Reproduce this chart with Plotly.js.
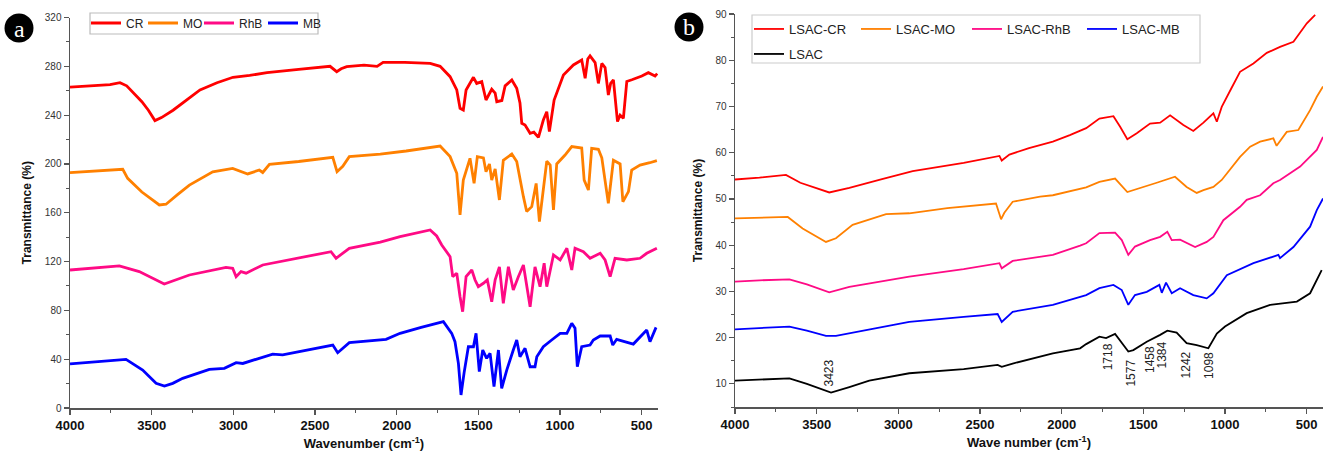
<!DOCTYPE html>
<html><head><meta charset="utf-8">
<script src="https://cdn.plot.ly/plotly-3.0.1.min.js"></script>
<style>html,body{margin:0;padding:0;background:#fff}#chart{width:1324px;height:457px}</style>
</head><body><div id="chart"></div>
<script>
// ---------- Panel a data (wavenumber, transmittance %) ----------
const crWave=[4000,3900,3755,3694,3653,3560,3520,3480,3440,3369,3300,3204,3100,3002,2900,2794,2600,2408,2367,2340,2306,2200,2120,2083,1950,1795,1734,1673,1632,1612,1592,1575,1530,1510,1479,1453,1418,1397,1387,1356,1336,1295,1265,1245,1234,1214,1183,1160,1132,1102,1081,1065,1036,1000,979,918,867,846,830,816,785,765,744,724,704,690,673,648,632,612,591,560,530,499,459,418,405];
const crT=[263,264,265,266.6,264,251,244,235.5,238,244,251,260.6,266.5,271,272.5,274.8,277.5,280,275.6,278,279.7,281,280,283.3,283.3,282.4,280,271.5,260.6,245.6,244.2,260.6,271,266,267.5,252.4,261.2,258,251,252,264,268.8,262,250,233.3,231.9,225.1,226,221.8,236,242.8,226.6,252.4,265,272.9,281.1,285.2,270.2,286,288.5,283,266,282.4,279,256.5,266,268.8,234.7,240,237.4,267.6,269,270.2,272,274.8,272,274];

const moWave=[4000,3850,3677,3647,3560,3453,3412,3340,3269,3126,3004,2912,2860,2841,2820,2779,2600,2391,2365,2330,2290,2100,1942,1850,1734,1673,1632,1612,1592,1551,1526,1506,1469,1453,1432,1418,1397,1371,1347,1295,1265,1224,1204,1173,1146,1126,1105,1081,1060,1040,1020,969,928,867,852,826,806,765,744,704,673,632,615,581,561,510,450,407];
const moT=[192.8,194,195.6,188.2,177,166.4,167,175,182.7,193.6,196.4,191.8,194,195,193,199.7,202,205.4,193.6,198,206,208,210.6,212.5,214.7,206,192.3,158.2,186.8,204.6,184.1,206,205,193.6,200,186.8,196,170.5,203,208.1,202,173.2,161,165,184,152.8,176,202.2,199,162.3,200,207.3,214.2,213,186.8,178.6,212.8,212,205,167.7,203,200,169,177.3,195,199.1,201,202.7];

const rhbWave=[4000,3850,3698,3576,3423,3269,3126,3045,3004,2983,2953,2922,2820,2657,2402,2371,2290,2100,1979,1795,1755,1724,1693,1673,1657,1632,1612,1596,1575,1540,1520,1500,1469,1445,1418,1397,1371,1347,1316,1286,1255,1224,1183,1153,1122,1097,1081,1040,999,958,928,908,857,816,754,724,693,663,591,510,469,407];
const rhbT=[113.1,114.5,116.4,111.8,101.6,109,113,115.3,114.5,107.6,111.8,110.5,117.2,121.3,128.1,122.7,130.9,136,140.4,145.9,141,133.6,128.1,124,107.6,110.4,91.2,78.9,107.6,113.1,104.9,99.4,102.2,105,87.1,105,115.7,85.7,115.7,96.7,107.6,117.2,83,115.7,99.4,118.6,99.4,125.4,121.3,130.9,113.1,130.9,128.1,122.7,126.8,121.3,107.6,122.7,121.3,122.7,126.8,130.9];

const mbWave=[4000,3850,3657,3555,3473,3422,3371,3310,3147,3055,2983,2942,2759,2698,2391,2361,2290,2065,1979,1850,1714,1663,1643,1622,1606,1587,1561,1530,1514,1494,1473,1449,1428,1404,1377,1357,1326,1286,1265,1245,1214,1183,1153,1142,1102,1051,999,958,928,908,894,867,816,796,754,693,677,653,551,469,449,412];
const mbT=[36.1,38,39.9,31.1,20.2,18,20.2,24.3,31.7,32.5,37.1,36.5,44.2,43.5,51.6,45.3,53.5,56.3,61.2,66,70.8,61.2,54.3,36.6,10.7,29,50.2,50.2,61.2,29.8,47.5,40.7,44.8,17.5,47.5,16.1,31.1,47.5,55.7,42,48.9,33.8,33.8,42,50.2,55.7,61.2,61.2,69.4,65.3,33.8,50.2,51.6,55.7,59,59,51.6,56.3,52.4,63.9,54.3,66.1];

// ---------- Panel b data ----------
const lcrWave=[4000,3850,3688,3600,3423,3300,3100,2912,2600,2381,2367,2320,2200,2054,1950,1850,1769,1683,1642,1598,1540,1459,1397,1336,1255,1194,1132,1071,1050,1020,960,908,826,744,663,581,499,448];
const lcrT=[54.2,54.6,55.2,53.5,51.4,52.4,54.3,56,57.8,59.3,58.3,59.6,61,62.4,63.8,65.3,67.4,67.9,65.6,62.9,64.2,66.3,66.5,68.1,66,64.7,66.5,68.5,66.7,69.9,74,77.5,79.3,81.6,82.9,84,88,89.8];

const lmoWave=[4000,3850,3677,3586,3443,3382,3280,3075,2933,2700,2402,2371,2351,2300,2132,2054,1850,1769,1673,1598,1520,1418,1306,1235,1173,1132,1071,1020,908,846,785,704,684,622,551,479,438,400];
const lmoT=[45.8,46,46.1,43.6,40.7,41.5,44.4,46.7,46.9,48,49,45.6,47,49.4,50.5,50.8,52.5,53.7,54.4,51.5,52.3,53.5,54.8,52.6,51.3,51.9,52.6,54.1,59.1,61.3,62.4,63.1,61.5,64.5,64.9,69.2,72.1,74.3];

const lrhbWave=[4000,3850,3667,3560,3423,3300,2933,2600,2381,2367,2300,2054,1887,1850,1769,1745,1673,1632,1592,1551,1459,1397,1353,1326,1275,1183,1112,1071,1010,908,867,785,704,663,540,438,400];
const lrhbT=[32.1,32.4,32.6,31.5,29.8,31,33.2,34.8,36.1,35,36.6,37.9,39.9,40.4,42.6,42.6,42.7,41.1,37.9,39.7,41.1,41.8,42.9,41.1,41.2,39.6,40.7,41.8,45.4,48.3,49.8,50.8,53.4,54.1,57,60.6,63.4];

const lmbWave=[4000,3850,3667,3560,3443,3382,2933,2600,2392,2367,2300,2054,1887,1850,1769,1683,1632,1592,1551,1479,1402,1387,1361,1326,1275,1194,1112,1071,989,887,826,673,663,581,479,438,400];
const lmbT=[21.8,22.1,22.4,21.5,20.4,20.4,23.4,24.5,25.1,23.4,25.6,27.1,28.8,29.2,30.7,31.4,30.3,27.1,29.2,29.9,31.4,29.7,31.9,29.6,30.7,29.2,28.5,29.6,33.5,35.2,36.1,37.9,37.2,39.6,44,47.6,50.1];

const lsWave=[4000,3850,3667,3560,3412,3300,3178,2933,2600,2392,2367,2300,2054,1887,1850,1769,1728,1673,1592,1561,1479,1397,1353,1296,1235,1173,1102,1050,1000,867,724,560,479,408];
const lsT=[10.7,10.9,11.2,10,8.1,9.3,10.7,12.3,13.2,14.1,13.7,14.4,16.6,17.7,18.6,20.2,19.9,20.8,17,17.3,19.1,20.6,21.5,21.1,18.8,18.4,17.7,20.9,22.4,25.3,27.1,27.8,29.6,34.6];

// ---------- labels ----------
const namesA=['CR','MO','RhB','MB'];
const namesB=['LSAC-CR','LSAC-MO','LSAC-RhB','LSAC-MB','LSAC'];
const peakLabels=['3423','1718','1577','1458','1384','1242','1098'];
const colors=['#ff0000','#ff8000','#ff0a85','#0000ff','#000000'];

// ---------- layout helpers ----------
const W=1324,H=457;
const px=v=>v/W, py=v=>1-v/H;
const F='Liberation Sans, Arial, sans-serif';

const seriesA=[[crWave,crT],[moWave,moT],[rhbWave,rhbT],[mbWave,mbT]];
const seriesB=[[lcrWave,lcrT],[lmoWave,lmoT],[lrhbWave,lrhbT],[lmbWave,lmbT],[lsWave,lsT]];
const legW_A=[12,11,19,20];
const legW_B=[62,66,70,70,70];

const traces=[];
seriesA.forEach((s,i)=>traces.push({x:s[0],y:s[1],type:'scatter',mode:'lines',name:namesA[i],
  line:{color:colors[i],width:2.8},xaxis:'x',yaxis:'y',legend:'legend',legendwidth:legW_A[i]}));
seriesB.forEach((s,i)=>traces.push({x:s[0],y:s[1],type:'scatter',mode:'lines',name:namesB[i],
  line:{color:colors[i],width:1.8},xaxis:'x2',yaxis:'y2',legend:i<4?'legend2':'legend3',legendwidth:legW_B[i]}));

const axLine={showline:true,linecolor:'#555',linewidth:1.5,ticks:'outside',ticklen:5,tickwidth:1.2,tickcolor:'#555',
  showgrid:false,zeroline:false};
const xTickFont={family:F,size:13,color:'#111',weight:'bold'};
const yTickFont={family:F,size:10,color:'#333'};

const peakY=[12.3,15.9,12.4,15.2,16.2,14.1,14.1];
const annotations=peakLabels.map((t,i)=>({x:+t,y:peakY[i],xref:'x2',yref:'y2',text:t,showarrow:false,
  textangle:-90,xanchor:'center',yanchor:'middle',font:{family:F,size:12,color:'#222'}}));
const circleFont={family:'Liberation Serif, DejaVu Serif, serif',size:24,color:'#fff'};
annotations.push({x:px(19),y:py(29),xref:'paper',yref:'paper',text:'a',showarrow:false,
  xanchor:'center',yanchor:'middle',font:circleFont});
annotations.push({x:px(689),y:py(27),xref:'paper',yref:'paper',text:'b',showarrow:false,
  xanchor:'center',yanchor:'middle',font:circleFont});

const shapes=[
  {type:'circle',xref:'paper',yref:'paper',layer:'below',x0:px(4.5),x1:px(33.5),y0:py(42.5),y1:py(13.5),fillcolor:'#000',line:{width:0}},
  {type:'circle',xref:'paper',yref:'paper',layer:'below',x0:px(674.5),x1:px(703.5),y0:py(41.5),y1:py(12.5),fillcolor:'#000',line:{width:0}},
  {type:'rect',xref:'paper',yref:'paper',x0:px(90),x1:px(318),y0:py(34),y1:py(13),line:{color:'#bbb',width:1.2},fillcolor:'rgba(0,0,0,0)'},
  {type:'rect',xref:'paper',yref:'paper',x0:px(752),x1:px(1200),y0:py(63),y1:py(15),line:{color:'#ccc',width:1.2},fillcolor:'rgba(0,0,0,0)'}
];

const legBase={orientation:'h',xanchor:'left',yanchor:'top',bgcolor:'rgba(0,0,0,0)',borderwidth:0,itemwidth:30,
  traceorder:'normal'};

const layout={
  width:W,height:H,margin:{l:0,r:0,t:0,b:0},paper_bgcolor:'#fff',plot_bgcolor:'rgba(0,0,0,0)',
  font:{family:F,color:'#222'},showlegend:true,
  xaxis:Object.assign({domain:[px(70),px(658)],range:[4000,400],anchor:'y',tick0:0,dtick:500,tickfont:xTickFont,
    minor:{dtick:250,ticks:'outside',ticklen:3,tickcolor:'#555',tickwidth:1},
    title:{text:'Wavenumber (cm<sup>-1</sup>)',font:{family:F,size:13,color:'#111',weight:'bold'},standoff:7}},axLine),
  yaxis:Object.assign({domain:[py(408),py(17.5)],range:[0,320],anchor:'x',tick0:0,dtick:40,tickfont:yTickFont,
    minor:{dtick:20,ticks:'outside',ticklen:3,tickcolor:'#555',tickwidth:1},
    title:{text:'Transmittance (%)',font:{family:F,size:12,color:'#111',weight:'bold'},standoff:10}},axLine),
  xaxis2:Object.assign({domain:[px(735),px(1323)],range:[4000,400],anchor:'y2',tick0:0,dtick:500,tickfont:xTickFont,
    minor:{dtick:250,ticks:'outside',ticklen:3,tickcolor:'#555',tickwidth:1},
    title:{text:'Wave number (cm<sup>-1</sup>)',font:{family:F,size:13,color:'#111',weight:'bold'},standoff:7}},axLine),
  yaxis2:Object.assign({domain:[py(407),py(14)],range:[5,90],anchor:'x2',tick0:0,dtick:10,tickfont:yTickFont,
    minor:{dtick:5,ticks:'outside',ticklen:3,tickcolor:'#555',tickwidth:1},
    title:{text:'Transmittance (%)',font:{family:F,size:12,color:'#111',weight:'bold'},standoff:10}},axLine),
  legend:Object.assign({},legBase,{x:px(86),y:py(8.5),font:{family:F,size:12,color:'#222'}}),
  legend2:Object.assign({},legBase,{x:px(749),y:py(14),font:{family:F,size:13,color:'#222'}}),
  legend3:Object.assign({},legBase,{x:px(749),y:py(39),font:{family:F,size:13,color:'#222'}}),
  annotations:annotations,shapes:shapes
};

Plotly.newPlot('chart',traces,layout,{displayModeBar:false,staticPlot:true});
</script></body></html>
